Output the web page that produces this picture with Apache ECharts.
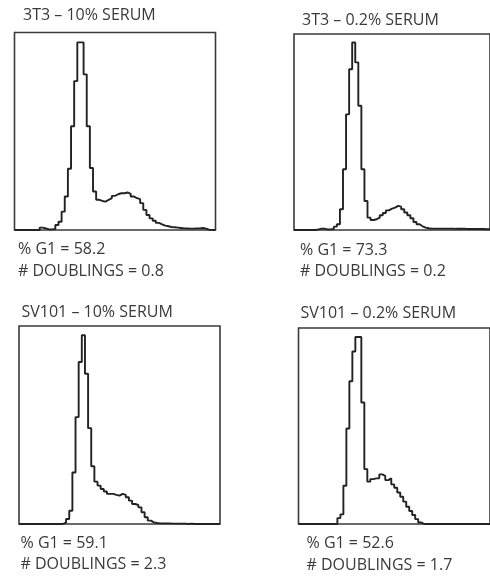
<!DOCTYPE html>
<html lang="en">
<head>
    <meta charset="UTF-8">
    <title>Cell cycle histograms</title>
    <script src="https://cdn.jsdelivr.net/npm/echarts@6/dist/echarts.min.js"></script>
    <style>
      html, body { margin: 0; padding: 0; background: #fff; }
      #main { width: 490px; height: 576px; }
    </style>
</head>
<body>
    <div id="main"></div>
    <script>
      // panel labels
      const titles = ["3T3 – 10% SERUM", "3T3 – 0.2% SERUM", "SV101 – 10% SERUM", "SV101 – 0.2% SERUM"];
      const pctG1 = ["58.2", "73.3", "59.1", "52.6"];
      const doublings = ["0.8", "0.2", "2.3", "1.7"];

      // DNA content histograms, 64 channels, height in % of frame
      const h3t3_10 = [
        0, 0, 0, 0, 0, 0, 0, 0,
        1.2, 0.8, 0.3, 0.3, 0.5, 2.5, 4.2, 9.3,
        17, 31, 52.5, 75.4, 95, 95, 78.8, 52.5,
        31.4, 19.5, 15.3, 14.7, 14.4, 15.3, 16.1, 17.3,
        18.1, 18.6, 18.6, 19, 18.3, 17, 16.1, 15.6,
        13.6, 10.2, 7.6, 5.9, 4.7, 3.6, 2.9, 2.2,
        1.9, 1.5, 1.4, 1.2, 1, 0.8, 0.8, 0.7,
        0.7, 0.8, 0.8, 1, 0.7, 0.2, 0, 0
      ];
      const h3t3_02 = [
        0, 0, 0, 0, 0, 0, 0, 0.3,
        0.7, 0.7, 0.3, 0.3, 0.5, 1.7, 2.9, 10.6,
        31, 59, 82, 95.7, 85.5, 63.4, 31, 14.8,
        6.3, 5.1, 5.5, 6.3, 7.5, 8.7, 10, 10.9,
        11.4, 12.3, 11.9, 10.6, 8.9, 7.5, 6, 4.1,
        2.9, 1.9, 1.2, 0.9, 0.7, 0.7, 0.7, 0.7,
        0.7, 0.7, 0.7, 0.7, 0.6, 0.6, 0.6, 0.6,
        0.5, 0.5, 0.5, 0.5, 0.5, 0.5, 0.4, 0.4
      ];
      const hsv_10 = [
        0, 0, 0, 0, 0, 0, 0, 0,
        0, 0, 0, 0, 0, 0, 0.8, 2.5,
        6.7, 26, 54, 81.8, 95.3, 75.9, 48.4, 29.2,
        21.4, 19.4, 17.7, 16.4, 15.2, 15.2, 14.7, 14.3,
        15.2, 14.7, 13.5, 11.8, 10.1, 9.6, 8.4, 5.9,
        3.4, 1.7, 0.8, 0.5, 0.3, 0.3, 0.3, 0.3,
        0.2, 0.2, 0.2, 0.2, 0.2, 0, 0.2, 0,
        0, 0, 0, 0, 0, 0, 0, 0
      ];
      const hsv_02 = [
        0, 0, 0, 0, 0, 0, 0, 0,
        0, 0, 0, 0, 0, 3, 4.9, 19.5,
        48.7, 72.8, 88, 95.4, 95.4, 62, 28, 21.6,
        22.9, 23.3, 23.3, 25.3, 24.6, 22.4, 23.3, 20.2,
        18.5, 16.1, 13.9, 11.4, 8.8, 6.6, 4.6, 2.5,
        0.8, 0, 0, 0, 0, 0, 0, 0,
        0, 0, 0, 0, 0, 0, 0, 0,
        0, 0, 0, 0, 0, 0, 0, 0
      ];
      const hists = [h3t3_10, h3t3_02, hsv_10, hsv_02];

      // panel frames and text anchors
      const grids = [
        { left: 14.5, top: 32.5, width: 201, height: 197.5 },
        { left: 294, top: 34, width: 200, height: 196 },
        { left: 19, top: 326, width: 201, height: 198 },
        { left: 298.5, top: 328, width: 200, height: 196 }
      ];
      const titlePos = [[23, 15], [302, 20.5], [21.5, 312], [300.5, 313.5]];
      const statPos = [[18, 249.5], [300, 250], [20.5, 543], [306.5, 543.5]];

      var font = "16px 'Open Sans', sans-serif";
      var textColor = "#3a3a3a";

      function toSteps(h) {
        var pts = h.map(function (v, i) { return [i, v]; });
        pts.push([h.length, h[h.length - 1]]);
        return pts;
      }

      var graphic = [];
      for (var k = 0; k < 4; k++) {
        graphic.push({
          type: "text",
          x: titlePos[k][0], y: titlePos[k][1],
          style: { text: titles[k], font: font, fill: textColor, verticalAlign: "middle" }
        });
        graphic.push({
          type: "text",
          x: statPos[k][0], y: statPos[k][1],
          style: { text: "% G1 = " + pctG1[k], font: font, fill: textColor, verticalAlign: "middle" }
        });
        graphic.push({
          type: "text",
          x: statPos[k][0], y: statPos[k][1] + 21.5,
          style: { text: "# DOUBLINGS = " + doublings[k], font: font, fill: textColor, verticalAlign: "middle" }
        });
      }

      var myChart = echarts.init(document.getElementById("main"), null, { renderer: "canvas" });
      var option = {
        animation: false,
        backgroundColor: "#fff",
        grid: grids.map(function (g) {
          return Object.assign({ show: true, borderColor: "#3a3a3a", borderWidth: 1.6, backgroundColor: "transparent" }, g);
        }),
        xAxis: hists.map(function (h, i) {
          return { type: "value", gridIndex: i, min: 0, max: h.length, show: false };
        }),
        yAxis: hists.map(function (h, i) {
          return { type: "value", gridIndex: i, min: 0, max: 100, show: false };
        }),
        series: hists.map(function (h, i) {
          return {
            type: "line",
            xAxisIndex: i,
            yAxisIndex: i,
            step: "end",
            showSymbol: false,
            data: toSteps(h),
            lineStyle: { color: "#222", width: 1.9 }
          };
        }),
        graphic: graphic
      };
      option && myChart.setOption(option);
    </script>
</body>
</html>
